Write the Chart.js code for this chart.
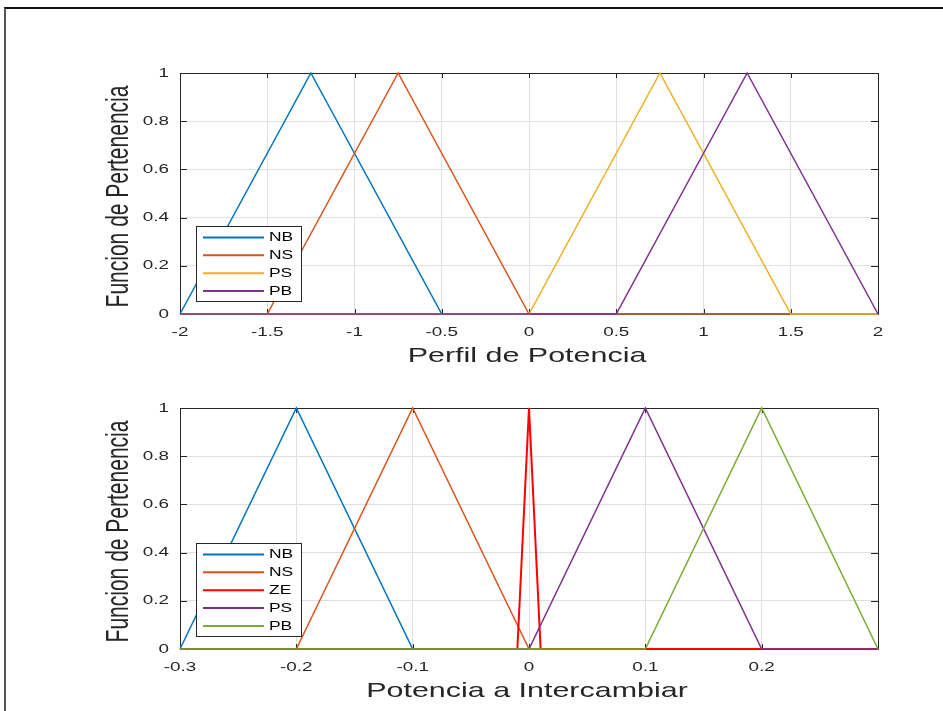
<!DOCTYPE html>
<html>
<head>
<meta charset="utf-8">
<script src="https://cdn.jsdelivr.net/npm/chart.js@4.4.0/dist/chart.umd.min.js"></script>
<style>
html, body { margin: 0; padding: 0; background: #fff; }
body { width: 943px; height: 711px; position: relative; overflow: hidden; }
#frame { position: absolute; left: 4px; top: 7px; width: 950px; height: 720px;
         border-top: 2px solid #111; border-left: 2px solid #555; }
canvas { position: absolute; left: 0; }
#c1 { top: 0; }
#c2 { top: 370px; }
</style>
</head>
<body>
<div id="frame"></div>
<canvas id="c1" width="943" height="370"></canvas>
<canvas id="c2" width="943" height="341"></canvas>
<script>
// --- top subplot: Perfil de Potencia ---
const topLabels = ['NB', 'NS', 'PS', 'PB'];
const topColors = ['#0072BD', '#D95319', '#EDB120', '#7E2F8E'];
const topNB_x = [-2, -1.25, -0.5, 2];
const topNB_y = [0, 1, 0, 0];
const topNS_x = [-2, -1.5, -0.75, 0, 2];
const topNS_y = [0, 0, 1, 0, 0];
const topPS_x = [-2, 0, 0.75, 1.5, 2];
const topPS_y = [0, 0, 1, 0, 0];
const topPB_x = [-2, 0.5, 1.25, 2];
const topPB_y = [0, 0, 1, 0];
const topXTicks = [-2, -1.5, -1, -0.5, 0, 0.5, 1, 1.5, 2];

// --- bottom subplot: Potencia a Intercambiar ---
const botLabels = ['NB', 'NS', 'ZE', 'PS', 'PB'];
const botColors = ['#0072BD', '#D95319', '#FF0000', '#7E2F8E', '#77AC30'];
const botNB_x = [-0.3, -0.2, -0.1, 0.3];
const botNB_y = [0, 1, 0, 0];
const botNS_x = [-0.3, -0.2, -0.1, 0, 0.3];
const botNS_y = [0, 0, 1, 0, 0];
const botZE_x = [-0.3, -0.01, 0, 0.01, 0.3];
const botZE_y = [0, 0, 1, 0, 0];
const botPS_x = [-0.3, 0, 0.1, 0.2, 0.3];
const botPS_y = [0, 0, 1, 0, 0];
const botPB_x = [-0.3, 0.1, 0.2, 0.3];
const botPB_y = [0, 0, 1, 0];
const botXTicks = [-0.3, -0.2, -0.1, 0, 0.1, 0.2];

const yTicks = [0, 0.2, 0.4, 0.6, 0.8, 1];
const yTitle = 'Funcion de Pertenencia';

const FONT = "'Liberation Sans', Arial, sans-serif";
const INK = '#262626';
const SX = 1.45; // the figure text is drawn wide

function wideText(ctx, text, x, y, align, size) {
    ctx.save();
    ctx.font = size + 'px ' + FONT;
    ctx.translate(x, y);
    ctx.scale(SX, 1);
    ctx.textAlign = align;
    ctx.fillText(text, 0, 0);
    ctx.restore();
}

// axes box, inward ticks, tick labels and axis titles, matlab style
const matlabAxes = {
    id: 'matlabAxes',
    beforeDatasetsDraw(chart, args, opts) {
        const ctx = chart.ctx;
        const a = chart.chartArea;
        const xs = chart.scales.x, ys = chart.scales.y;
        ctx.save();
        ctx.strokeStyle = INK;
        ctx.lineWidth = 1;
        ctx.beginPath();
        ctx.rect(a.left + 0.5, a.top + 0.5, a.right - a.left, a.bottom - a.top);
        opts.xTicks.forEach(v => {
            const px = Math.round(xs.getPixelForValue(v)) + 0.5;
            ctx.moveTo(px, a.bottom); ctx.lineTo(px, a.bottom - 5);
            ctx.moveTo(px, a.top); ctx.lineTo(px, a.top + 5);
        });
        yTicks.forEach(v => {
            const py = Math.round(ys.getPixelForValue(v)) + 0.5;
            ctx.moveTo(a.left, py); ctx.lineTo(a.left + 7, py);
            ctx.moveTo(a.right, py); ctx.lineTo(a.right - 7, py);
        });
        ctx.stroke();

        ctx.fillStyle = INK;
        ctx.textBaseline = 'alphabetic';
        opts.xTicks.forEach(v => {
            wideText(ctx, String(v), xs.getPixelForValue(v), a.bottom + 22, 'center', 13);
        });
        ctx.textBaseline = 'middle';
        yTicks.forEach(v => {
            wideText(ctx, String(v), a.left - 11, ys.getPixelForValue(v), 'right', 13);
        });

        ctx.textBaseline = 'alphabetic';
        wideText(ctx, opts.xTitle, (a.left + a.right) / 2 - 2, a.bottom + 48, 'center', 21);

        // rotated y title, stretched across the screen x direction
        ctx.save();
        ctx.font = '21px ' + FONT;
        ctx.translate(119.5, (a.top + a.bottom) / 2 + 3);
        ctx.rotate(-Math.PI / 2);
        ctx.scale(1, SX);
        ctx.textAlign = 'center';
        ctx.textBaseline = 'middle';
        ctx.fillText(yTitle, 0, 0);
        ctx.restore();
        ctx.restore();
    },
    afterDraw(chart, args, opts) {
        // legend box in the lower left corner
        const ctx = chart.ctx;
        const a = chart.chartArea;
        const ds = chart.data.datasets;
        const rowH = 17.85;
        const h = Math.round(ds.length * rowH + 4);
        const x = a.left + 16, y = a.bottom - 13 - h, w = 105;
        ctx.save();
        ctx.fillStyle = '#fff';
        ctx.fillRect(x, y, w, h);
        ctx.strokeStyle = INK;
        ctx.lineWidth = 1;
        ctx.strokeRect(x + 0.5, y + 0.5, w, h);
        ds.forEach((d, i) => {
            const cy = y + 11.5 + i * rowH;
            ctx.strokeStyle = d.borderColor;
            ctx.lineWidth = 2;
            ctx.beginPath();
            ctx.moveTo(x + 7, cy); ctx.lineTo(x + 68, cy);
            ctx.stroke();
            ctx.fillStyle = '#000';
            ctx.textBaseline = 'middle';
            wideText(ctx, d.label, x + 73, cy + 0.5, 'left', 12);
        });
        ctx.restore();
    }
};

function makeChart(id, labels, colors, xsList, ysList, xMin, xMax, xTicks, xTitle, padTop, xHeight) {
    const n = labels.length;
    const datasets = labels.map((lab, i) => ({
        label: lab,
        data: xsList[i].map((x, j) => ({ x: x, y: ysList[i][j] })),
        borderColor: colors[i],
        borderWidth: lab === 'ZE' ? 2 : 1.5,
        pointRadius: 0,
        tension: 0,
        fill: false,
        order: n - i,   // later series on top, as in the original
        clip: 3
    }));
    return new Chart(document.getElementById(id), {
        type: 'line',
        data: { datasets: datasets },
        options: {
            responsive: false,
            animation: false,
            layout: { padding: { left: 120, right: 65, top: padTop, bottom: 0 } },
            plugins: {
                legend: { display: false },
                tooltip: { enabled: false },
                matlabAxes: { xTicks: xTicks, xTitle: xTitle }
            },
            scales: {
                x: {
                    type: 'linear', min: xMin, max: xMax,
                    afterBuildTicks: s => { s.ticks = xTicks.map(v => ({ value: v })); },
                    afterFit: s => { s.height = xHeight; },
                    ticks: { display: false },
                    grid: { color: '#dfdfdf', lineWidth: 1, drawTicks: false },
                    border: { display: false }
                },
                y: {
                    type: 'linear', min: 0, max: 1,
                    afterBuildTicks: s => { s.ticks = yTicks.map(v => ({ value: v })); },
                    afterFit: s => { s.width = 60; },
                    ticks: { display: false },
                    grid: { color: '#dfdfdf', lineWidth: 1, drawTicks: false },
                    border: { display: false }
                }
            }
        },
        plugins: [matlabAxes]
    });
}

makeChart('c1', topLabels, topColors,
    [topNB_x, topNS_x, topPS_x, topPB_x],
    [topNB_y, topNS_y, topPS_y, topPB_y],
    -2, 2, topXTicks, 'Perfil de Potencia', 73, 56);

makeChart('c2', botLabels, botColors,
    [botNB_x, botNS_x, botZE_x, botPS_x, botPB_x],
    [botNB_y, botNS_y, botZE_y, botPS_y, botPB_y],
    -0.3, 0.3, botXTicks, 'Potencia a Intercambiar', 38, 62);
</script>
</body>
</html>
